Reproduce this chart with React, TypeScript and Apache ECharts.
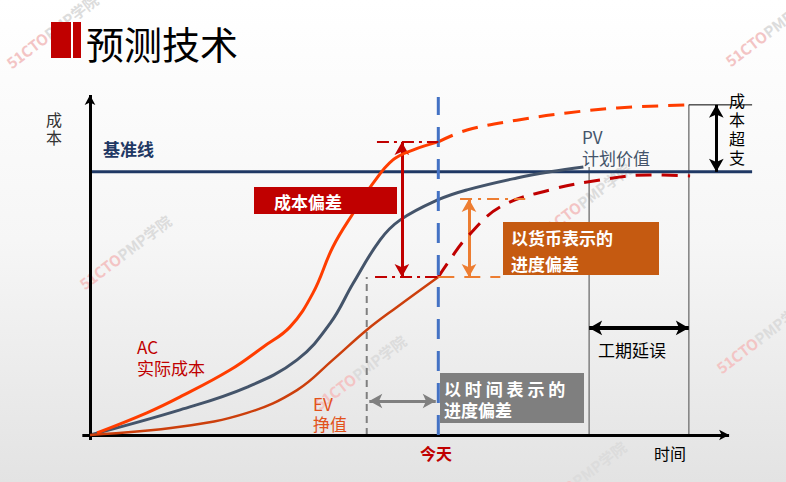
import React, { useEffect, useRef } from "react";
import * as echarts from "echarts";

// ---- data (time 0-100, cost 0-100) ----
const acActual = [[1.1, 0.6], [8.9, 6.5], [14.1, 11.2], [21.9, 19.1], [27.1, 25.9], [31.3, 31.8], [34.9, 41.8], [38.0, 55.3], [41.2, 65.3], [44.3, 74.1], [47.4, 80.9], [50.5, 83.8], [54.5, 86.2]];
const acForecast = [[54.5, 86.2], [59.0, 89.7], [66.8, 92.6], [74.6, 94.7], [82.5, 96.2], [94.4, 97.1]];
const pvPlanned = [[0, 0], [14.1, 7.4], [24.6, 14.1], [32.4, 22.1], [37.6, 32.9], [41.2, 44.7], [45.4, 57.4], [48.5, 63.2], [54.5, 69.2], [59.0, 72.1], [66.8, 75.6], [72.0, 77.4], [77.2, 78.8]];
const evEarned = [[0, 0], [14.1, 2.4], [24.6, 6.5], [32.4, 13.2], [38.0, 22.1], [43.3, 30.9], [48.0, 37.6], [54.5, 46.5]];
const evForecast = [[54.5, 46.5], [56.3, 51.5], [59.0, 58.2], [64.2, 67.1], [72.0, 72.1], [79.8, 75.0], [87.6, 76.5], [93.9, 76.2]];

const baselineCost = 77.4;
const baselineEnd = 103.6;
const todayTime = 54.5;
const todayTop = 99.4;
const acToday = 86.2;
const evToday = 46.5;
const pvToday = 69.4;
const pvEndTime = 78.1;
const pvEndCost = 78.8;
const finishTime = 93.7;
const eacCost = 97.1;
const earnedScheduleTime = 43.3;
const cvArrowTime = 48.8;
const svArrowTime = 59.3;
const overrunArrowTime = 98.0;
const delayArrowCost = 31.5;
const timeSvArrowCost = 10.0;

const FONT = '"Noto Sans CJK SC", "Noto Sans", sans-serif';

function line(data: number[][], color: string, width: number, type: any, smooth: number | boolean, z: number) {
  return {
    type: "line",
    data,
    symbol: "none",
    showSymbol: false,
    clip: false,
    smooth,
    silent: true,
    z,
    lineStyle: { color, width, type, cap: "butt" },
  };
}

function arrowItem(from: number[], to: number[], color: string, width: number) {
  const ls = { color, width, type: "solid" };
  return [{ coord: from, lineStyle: ls }, { coord: to, lineStyle: ls }];
}

function txt(x: number, y: number, text: string, size: number, fill: string, opts: any = {}) {
  const align = opts.align || "left";
  return {
    type: "text",
    z: 100,
    silent: true,
    style: {
      x,
      y,
      text,
      fill,
      font: `${opts.bold ? "bold " : ""}${size}px ${FONT}`,
      textAlign: align,
      align,
      textVerticalAlign: "middle",
      verticalAlign: "middle",
      lineHeight: opts.lh || size + 4,
    },
  };
}

function watermark(cx: number, cy: number) {
  return {
    type: "text",
    x: cx,
    y: cy,
    rotation: 0.65,
    z: 1,
    silent: true,
    style: {
      text: "{a|51CTO}{b|PMP学院}",
      align: "center",
      textAlign: "center",
      verticalAlign: "middle",
      textVerticalAlign: "middle",
      rich: {
        a: { fill: "#F3C4C4", font: `bold 15px ${FONT}` },
        b: { fill: "#DCDCDC", font: `bold 15px ${FONT}` },
      },
    },
  };
}

const option: any = {
  animation: false,
  backgroundColor: {
    type: "linear", x: 0, y: 0, x2: 0, y2: 1,
    colorStops: [{ offset: 0, color: "#FFFFFF" }, { offset: 0.5, color: "#F6F6F6" }, { offset: 1, color: "#E3E3E3" }],
  },
  grid: { left: 77.22, right: 24.95, top: 95, bottom: 40.2 },
  xAxis: { type: "value", min: -2, max: 105, show: false },
  yAxis: { type: "value", min: -2, max: 100, show: false },
  series: [
    line([[0, baselineCost], [baselineEnd, baselineCost]], "#1F3864", 3, "solid", false, 3),
    line(pvPlanned, "#44546A", 3, "solid", 0.4, 4),
    line(evEarned, "#CC3F0C", 2.5, "solid", 0.4, 5),
    line(evForecast, "#C00000", 3, [16, 10], 0.4, 5),
    line(acActual, "#FF3D00", 3, "solid", 0.4, 6),
    line(acForecast, "#FF3D00", 3, [16, 10], 0.4, 6),
    line([[todayTime, 0], [todayTime, todayTop]], "#4472C4", 3, [20, 12], false, 7),
    line([[pvEndTime, 0], [pvEndTime, pvEndCost]], "#7F7F7F", 1.5, "solid", false, 2),
    line([[finishTime, 0], [finishTime, eacCost]], "#7F7F7F", 1.5, "solid", false, 2),
    line([[finishTime, eacCost], [baselineEnd, eacCost]], "#000000", 1, "solid", false, 2),
    line([[earnedScheduleTime, 0], [earnedScheduleTime, evToday]], "#7F7F7F", 2, [7, 5], false, 2),
    line([[44.9, acToday], [todayTime, acToday]], "#C00000", 2, [12, 5, 3, 5], false, 8),
    line([[44.6, evToday], [todayTime, evToday]], "#C00000", 2, [12, 5, 3, 5], false, 8),
    line([[todayTime, evToday], [64.2, evToday]], "#ED7D31", 2, [16, 10], false, 8),
    line([[57.9, pvToday], [68.1, pvToday]], "#ED7D31", 2, [12, 6, 3, 6], false, 8),
    {
      type: "line",
      data: [],
      silent: true,
      z: 9,
      markLine: {
        silent: true,
        animation: false,
        symbol: ["arrow", "arrow"],
        symbolSize: [11, 13],
        label: { show: false },
        data: [
          arrowItem([cvArrowTime, acToday], [cvArrowTime, evToday], "#C00000", 3),
          arrowItem([svArrowTime, pvToday], [svArrowTime, evToday], "#ED7D31", 3),
          arrowItem([overrunArrowTime, eacCost], [overrunArrowTime, baselineCost], "#000000", 3),
          arrowItem([earnedScheduleTime + 0.4, timeSvArrowCost], [todayTime - 0.4, timeSvArrowCost], "#808080", 3),
          arrowItem([pvEndTime, delayArrowCost], [finishTime, delayArrowCost], "#000000", 4),
        ],
      },
    },
    {
      type: "line",
      data: [],
      silent: true,
      z: 10,
      markLine: {
        silent: true,
        animation: false,
        symbol: ["none", "arrow"],
        symbolSize: [8, 10],
        label: { show: false },
        data: [
          arrowItem([0, -1.5], [0, 100], "#000000", 3),
          arrowItem([-1.2, 0], [100, 0], "#000000", 3),
        ],
      },
    },
  ],
  graphic: [
    watermark(52, 31),
    watermark(771, 29),
    watermark(585, 200),
    watermark(125, 252),
    watermark(360, 372),
    watermark(762, 336),
    watermark(580, 478),
    { type: "rect", z: 100, silent: true, shape: { x: 51, y: 22, width: 20, height: 36 }, style: { fill: "#C00000" } },
    { type: "rect", z: 100, silent: true, shape: { x: 73, y: 22, width: 8, height: 36 }, style: { fill: "#C00000" } },
    txt(86, 42, "预测技术", 38, "#000000"),
    { type: "rect", z: 99, silent: true, shape: { x: 254, y: 187, width: 143, height: 27 }, style: { fill: "#C00000" } },
    txt(274, 201, "成本偏差", 17, "#FFFFFF", { bold: true }),
    { type: "rect", z: 99, silent: true, shape: { x: 503, y: 222, width: 156, height: 53 }, style: { fill: "#C55A11" } },
    txt(511, 250, "以货币表示的\n进度偏差", 17, "#FFFFFF", { bold: true, lh: 26 }),
    { type: "rect", z: 99, silent: true, shape: { x: 440, y: 373, width: 144, height: 50 }, style: { fill: "#7F7F7F" } },
    txt(444, 399, "以 时 间 表 示 的\n进度偏差", 17, "#FFFFFF", { bold: true, lh: 21 }),
    txt(54, 128, "成\n本", 16, "#333333", { align: "center", lh: 18 }),
    txt(103, 148, "基准线", 17, "#1F3864", { bold: true }),
    txt(582, 147, "PV\n计划价值", 17, "#44546A", { lh: 21 }),
    txt(737, 128, "成\n本\n超\n支", 16, "#000000", { align: "center", lh: 19 }),
    txt(137, 357, "AC\n实际成本", 17, "#C00000", { lh: 21 }),
    txt(313, 413, "EV\n挣值", 17, "#E2521B", { lh: 20 }),
    txt(598, 349, "工期延误", 17, "#000000"),
    txt(436, 453, "今天", 16, "#C00000", { align: "center", bold: true }),
    txt(670, 453, "时间", 16, "#000000", { align: "center" }),
  ],
};

export default function App() {
  const ref = useRef<HTMLDivElement>(null);
  useEffect(() => {
    const chart = echarts.init(ref.current!, null, { renderer: "svg" });
    chart.setOption(option);
    return () => chart.dispose();
  }, []);
  return <div ref={ref} style={{ position: "absolute", left: 0, top: 0, width: 786, height: 482 }} />;
}
